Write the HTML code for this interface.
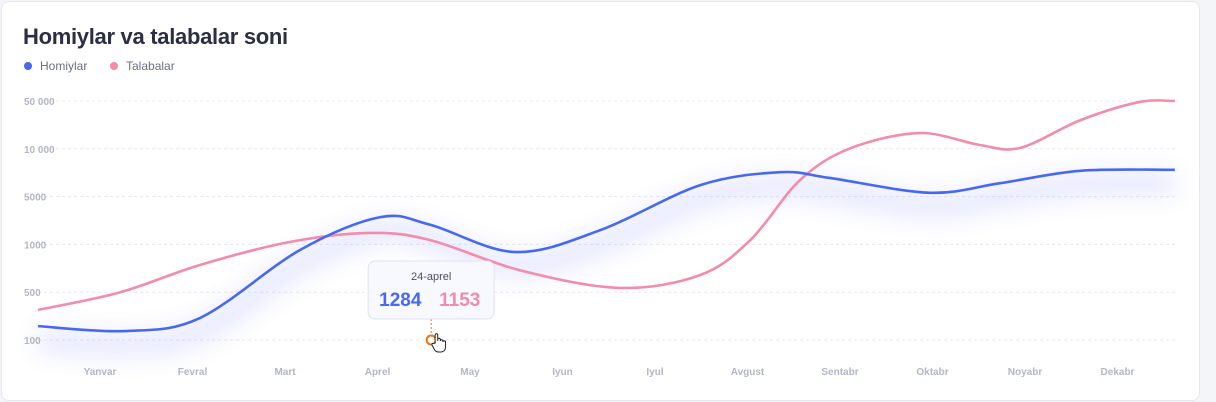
<!DOCTYPE html>
<html><head><meta charset="utf-8"><style>
body{margin:0;width:1216px;height:402px;background:#f4f5f9;font-family:"Liberation Sans",sans-serif;overflow:hidden}
#card{position:absolute;left:1px;top:1px;width:1197px;height:398px;background:#fff;border:1px solid #e6e8f0;border-radius:8px}
h1{position:absolute;left:23px;top:24px;margin:0;font-size:22px;font-weight:bold;color:#2b2f44;letter-spacing:-0.3px}
.leg{position:absolute;top:59px;font-size:12px;color:#6b6f85}
.dot{display:inline-block;width:8px;height:8px;border-radius:50%;margin-right:8px;vertical-align:0}
svg{position:absolute;left:0;top:0}
</style></head><body>
<div id="card"></div>
<h1>Homiylar va talabalar soni</h1>
<div class="leg" style="left:24px"><span class="dot" style="background:#4668f2"></span>Homiylar</div>
<div class="leg" style="left:110px"><span class="dot" style="background:#f48ca9"></span>Talabalar</div>
<svg id="chart" width="1216" height="402">
<defs><filter id="blur" x="-20%" y="-50%" width="140%" height="200%"><feGaussianBlur stdDeviation="12"/></filter></defs>
</svg>
<script>
const months=["Yanvar","Fevral","Mart","Aprel","May","Iyun","Iyul","Avgust","Sentabr","Oktabr","Noyabr","Dekabr"];
const yTicks=[100,500,1000,5000,10000,50000];
const yTickLabels=["100","500","1000","5000","10 000","50 000"];
const blueX=[-0.67,0.27,1.08,2.16,3.03,3.57,4.49,5.41,6.49,7.35,7.89,8.97,9.73,10.6,11.62];
const blueV=[216,175,284,940,3280,2640,920,2200,6200,7550,6950,5400,6400,7700,7800];
const pinkX=[-0.67,0.22,1.08,2.05,2.92,3.57,4.54,5.62,6.49,7.03,7.57,8.11,8.86,9.51,9.95,10.6,11.24,11.62];
const pinkV=[352,500,785,1200,1960,1360,730,545,680,1360,6750,10400,23200,13200,10800,34000,49200,50000];
const tipBlue=1284, tipPink=1153, tipLabel="24-aprel", tipX=3.58;

const svg=document.getElementById('chart');
const NS='http://www.w3.org/2000/svg';
function xs(m){return 100+m*92.5;}
function ys(v){
  let k=0;
  if(v<=yTicks[0]) k=(v-yTicks[0])/(yTicks[1]-yTicks[0]);
  else if(v>=yTicks[yTicks.length-1]) k=yTicks.length-1;
  else for(let i=0;i<yTicks.length-1;i++){if(v>=yTicks[i]&&v<=yTicks[i+1]){k=i+(v-yTicks[i])/(yTicks[i+1]-yTicks[i]);break;}}
  return 340-k*47.8;
}
function mk(t,a){const e=document.createElementNS(NS,t);for(const k in a)e.setAttribute(k,a[k]);svg.appendChild(e);return e;}
yTicks.forEach((v,i)=>{
  const y=ys(v);
  const l=mk('line',{x1:38,x2:1175,y1:y,y2:y,stroke:'#e6e8ef','stroke-dasharray':'3 3'});
  
  
  const t=mk('text',{x:24,y:y+4,'font-size':10,'font-weight':'bold',fill:'#b3b6c4'});
  t.textContent=yTickLabels[i];
  
  
});
months.forEach((m,i)=>{
  const t=mk('text',{x:xs(i),y:375,'font-size':10,'font-weight':'bold',fill:'#b3b6c4','text-anchor':'middle'});
  t.textContent=m;
  
  
});
function path(X,V){
  const p=X.map((x,i)=>[xs(x),ys(V[i])]);
  let d='M'+p[0][0]+','+p[0][1];
  for(let i=0;i<p.length-1;i++){
    const p0=p[i-1]||p[i],p1=p[i],p2=p[i+1],p3=p[i+2]||p2;
    const c1=[p1[0]+(p2[0]-p0[0])/6,p1[1]+(p2[1]-p0[1])/6];
    const c2=[p2[0]-(p3[0]-p1[0])/6,p2[1]-(p3[1]-p1[1])/6];
    d+=`C${c1[0]},${c1[1]} ${c2[0]},${c2[1]} ${p2[0]},${p2[1]}`;
  }
  return d;
}
const glow=mk('path',{d:path(blueX,blueV),fill:'none',stroke:'#6f7cf5','stroke-width':22,opacity:0.18,filter:'url(#blur)',transform:'translate(0,14)'});


const pk=mk('path',{d:path(pinkX,pinkV),fill:'none',stroke:'#f48ca9','stroke-width':2.6});


const bl=mk('path',{d:path(blueX,blueV),fill:'none',stroke:'#4668f2','stroke-width':2.6});


const tx=xs(tipX);
const dl=mk('line',{x1:tx,x2:tx,y1:319,y2:335,stroke:'#e07a1a','stroke-dasharray':'2 2'});


const c=mk('circle',{cx:tx,cy:ys(100),r:4.5,fill:'#fff',stroke:'#e8761a','stroke-width':2});


const r=mk('rect',{x:tx-63,y:261,width:126,height:58,rx:7,fill:'#f7f8fe','fill-opacity':0.92,stroke:'#dde2f7'});


const tl=mk('text',{x:tx,y:280,'font-size':11,fill:'#4a4e62','text-anchor':'middle'});
tl.textContent=tipLabel;


const tb=mk('text',{x:tx-52,y:306,'font-size':19,'font-weight':'bold',fill:'#4668f2'});
tb.textContent=tipBlue;


const tp=mk('text',{x:tx+8,y:306,'font-size':19,'font-weight':'bold',fill:'#f48ca9'});
tp.textContent=tipPink;


const cur=mk('path',{d:`M${tx+4},${343} l0,-8 a1.3,1.3 0 0 1 2.6,0 l0,6 l0,-1.5 a1.3,1.3 0 0 1 2.6,0 l0,1.5 a1.3,1.3 0 0 1 2.6,0 l0,1 a1.3,1.3 0 0 1 2.6,0 l0,5 q0,4 -4,5 l-3,0 q-3,0 -4.5,-3 l-2,-4 q-0.5,-2 1.5,-1.5z`,fill:'#fff',stroke:'#222','stroke-width':1});


</script>
</body></html>
